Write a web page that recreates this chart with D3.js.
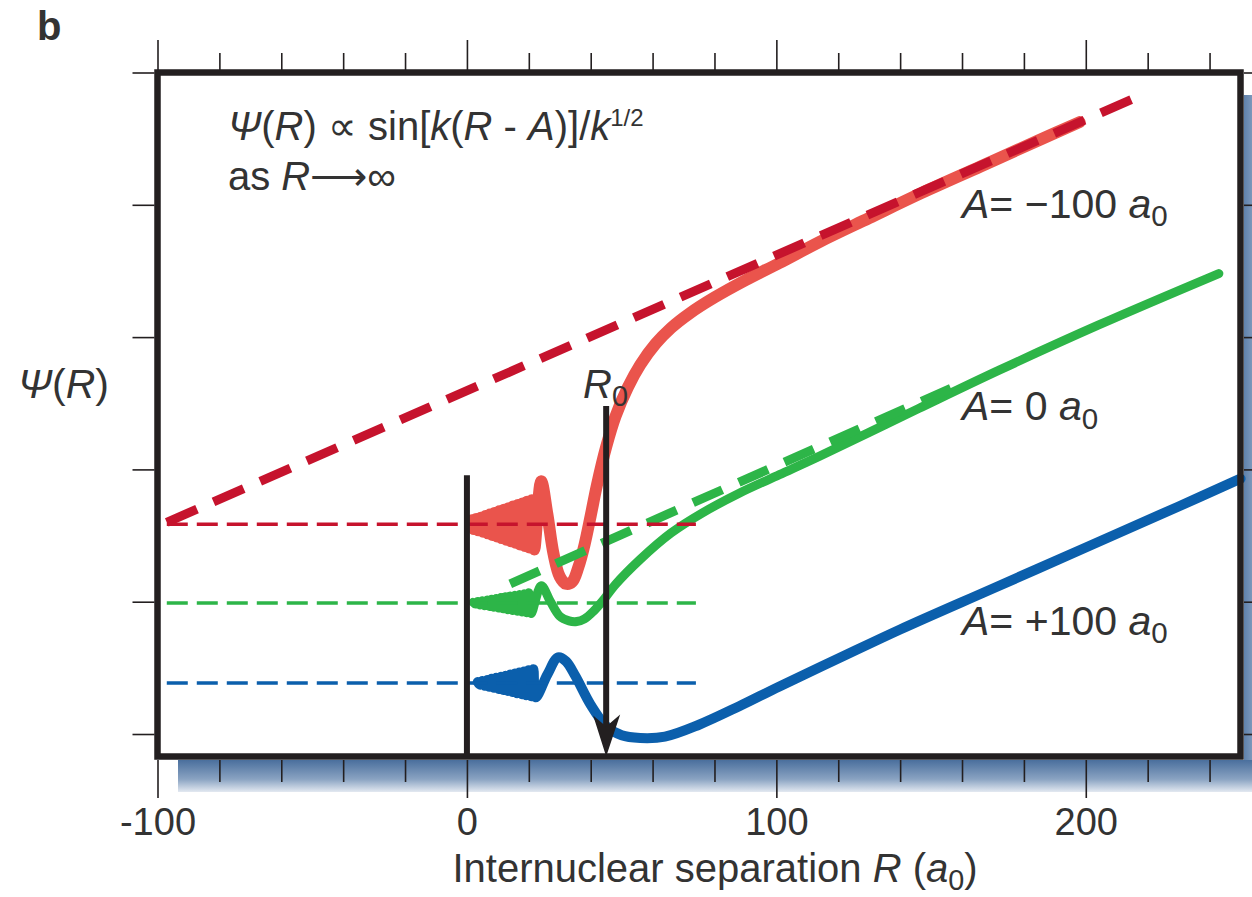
<!DOCTYPE html>
<html>
<head>
<meta charset="utf-8">
<script src="https://cdn.jsdelivr.net/npm/d3@7"></script>
<style>
body{margin:0;background:#fff;}
text{font-family:"Liberation Sans",Arial,sans-serif;fill:#333;}
</style>
</head>
<body>
<svg id="chart" width="1252" height="897"></svg>
<script>
// values: R in a0, psi in arbitrary units (one unit per y tick)
const xMajor = [-100, 0, 100, 200];
const xMinor = [-80, -60, -40, -20, 20, 40, 60, 80, 120, 140, 160, 180, 220, 240];
const yTicks = [0, 1, 2, 3, 4, 5];

const baselines = [1.585, 0.99, 0.385];   // red, green, blue zero levels
const baselineSpan = [-97, 74];

const redCurve = [[1.5,1.615],[2.25,1.55],[3,1.625],[3.75,1.54],[4.5,1.635],[5.25,1.529],[6,1.647],[6.75,1.517],
  [7.5,1.659],[8.25,1.505],[9,1.671],[9.75,1.493],[10.5,1.683],[11.25,1.481],[12,1.695],[12.75,1.469],
  [13.5,1.707],[14.25,1.457],[15,1.719],[15.75,1.445],[16.5,1.731],[17.25,1.433],[18,1.743],[18.75,1.421],
  [19.5,1.755],[20.25,1.409],[21,1.767],[21.75,1.395],
  [24,1.91],[26,1.66],[28,1.36],[30,1.19],[32,1.135],[34,1.15],[36,1.26],[38,1.43],[40,1.65],[42,1.88],
  [45,2.17],[48,2.40],[52,2.62],[56,2.79],[61,2.95],[66,3.07],[72,3.18],[80,3.30],[90,3.43],[101,3.56],
  [114,3.72],[130,3.90],[147,4.09],[166,4.29],[185,4.49],[198,4.625]];
const greenCurve = [[2,0.995],[2.75,0.982],[3.5,1.001],[4.25,0.976],[5,1.007],[5.75,0.97],[6.5,1.013],[7.25,0.964],
  [8,1.019],[8.75,0.958],[9.5,1.025],[10.25,0.952],[11,1.031],[11.75,0.946],[12.5,1.037],[13.25,0.94],
  [14,1.043],[14.75,0.934],[15.5,1.049],[16.25,0.928],[17,1.055],[17.75,0.922],[18.5,1.061],[19.25,0.916],
  [20,1.067],[20.75,0.91],
  [24,1.12],[27,1.0],[30,0.89],[33,0.855],[35.5,0.85],[38,0.87],[41,0.93],[44,1.01],[48,1.13],[56,1.32],
  [66,1.52],[76,1.67],[88,1.82],[101,1.96],[114,2.10],[130,2.28],[146,2.46],[172,2.75],[204,3.09],[243,3.48]];
const blueCurve = [[3.5,0.393],[4.25,0.373],[5,0.401],[5.75,0.365],[6.5,0.409],[7.25,0.357],[8,0.417],[8.75,0.349],
  [9.5,0.425],[10.25,0.341],[11,0.433],[11.75,0.333],[12.5,0.441],[13.25,0.325],[14,0.449],[14.75,0.317],
  [15.5,0.457],[16.25,0.309],[17,0.465],[17.75,0.301],[18.5,0.473],[19.25,0.293],[20,0.481],[20.75,0.285],
  [21.5,0.489],[22.25,0.277],
  [26,0.45],[29.5,0.58],[32,0.55],[35,0.44],[40,0.22],[45,0.06],[50,-0.01],[56,-0.03],[64,-0.02],[75,0.07],
  [88,0.21],[101,0.36],[120,0.57],[140,0.79],[170,1.10],[200,1.41],[230,1.72],[250,1.93]];

// asymptotes sin[k(R-A)] ~ (R-A)
const redAsym = [[-97,1.60],[219,4.84]];
const greenAsym = [[14,1.135],[160,2.65]];

const r0 = 45;
const zeroLineTop = 1.955;
const r0LineTop = 2.48;

const aLabels = ["= \u2212100 ", "= 0 ", "= +100 "];
const aLabelLevels = [3.9, 2.37, 0.75];

const svg = d3.select("#chart");

const x = d3.scaleLinear().domain([-100, 250]).range([157.5, 1240.5]);
const y = d3.scaleLinear().domain([-0.17, 5]).range([756.5, 72.5]);

// shadow
const defs = svg.append("defs");
const gb = defs.append("linearGradient").attr("id","shadeB").attr("x1",0).attr("y1",0).attr("x2",0).attr("y2",1);
gb.append("stop").attr("offset",0).attr("stop-color","#4a6f9d");
gb.append("stop").attr("offset",0.6).attr("stop-color","#8aa3c2");
gb.append("stop").attr("offset",1).attr("stop-color","#e3e9f1");
const gr = defs.append("linearGradient").attr("id","shadeR").attr("x1",0).attr("y1",0).attr("x2",1).attr("y2",0);
gr.append("stop").attr("offset",0).attr("stop-color","#5f81ab");
gr.append("stop").attr("offset",1).attr("stop-color","#a7bad3");

svg.append("rect").attr("x",1244).attr("y",95).attr("width",20).attr("height",697).attr("fill","url(#shadeR)");
svg.append("rect").attr("x",178).attr("y",760).attr("width",1086).attr("height",32).attr("fill","url(#shadeB)");

svg.append("rect")
    .attr("x", x(-100)).attr("y", y(5))
    .attr("width", x(250) - x(-100)).attr("height", y(-0.17) - y(5))
    .attr("fill", "#fff");

const line = d3.line()
    .x(d => x(d[0]))
    .y(d => y(d[1]))
    .curve(d3.curveCatmullRom.alpha(0.5));

const drawCurve = (data, color, width, dash) => {
  svg.append("path")
      .datum(data)
      .attr("fill", "none")
      .attr("stroke", color)
      .attr("stroke-width", width)
      .attr("stroke-linejoin", "round")
      .attr("stroke-linecap", dash ? "butt" : "round")
      .attr("stroke-dasharray", dash || null)
      .attr("d", line);
};

drawCurve(blueCurve, "#0b5fac", 10);
drawCurve(greenCurve, "#2db548", 9);
drawCurve(redCurve, "#ea544c", 12);
drawCurve(greenAsym, "#2db548", 9, "32,18");
drawCurve(redAsym, "#c6132d", 9, "33,18");

const baseColors = ["#c6132d", "#2db548", "#0b5fac"];
baselines.forEach((b, i) => {
  drawCurve(baselineSpan.map(r => [r, b]), baseColors[i], 3.5, "21,9");
});

// box
svg.append("rect")
    .attr("x", x(-100)).attr("y", y(5))
    .attr("width", x(250) - x(-100)).attr("height", y(-0.17) - y(5))
    .attr("fill", "none")
    .attr("stroke", "#231f20")
    .attr("stroke-width", 6.5);

// R = 0 wall and R0 arrow
svg.append("line")
    .attr("x1", x(0)).attr("x2", x(0))
    .attr("y1", y(zeroLineTop)).attr("y2", y(-0.17))
    .attr("stroke", "#231f20").attr("stroke-width", 6);

const tipX = x(r0), tipY = y(-0.17);
svg.append("line")
    .attr("x1", tipX).attr("x2", tipX)
    .attr("y1", y(r0LineTop)).attr("y2", tipY - 28)
    .attr("stroke", "#231f20").attr("stroke-width", 6);
svg.append("path")
    .attr("d", `M${tipX},${tipY} L${tipX-13},${tipY-41} L${tipX},${tipY-30} L${tipX+14},${tipY-42} Z`)
    .attr("fill", "#231f20");

// axes
const styleAxis = g => {
  g.select(".domain").remove();
  g.selectAll(".tick line").attr("stroke", "#231f20").attr("stroke-width", 1.6);
  g.selectAll("text").style("font-size", "38px").attr("fill", "#333");
};

svg.append("g").attr("transform", "translate(0,760)")
    .call(d3.axisBottom(x).tickValues(xMinor).tickSize(22).tickFormat(""))
    .call(styleAxis);
svg.append("g").attr("transform", "translate(0,760)")
    .call(d3.axisBottom(x).tickValues(xMajor).tickSize(38).tickPadding(10)
      .tickFormat(d => d < 0 ? "-" + Math.abs(d) : d))
    .call(styleAxis);
svg.append("g").attr("transform", "translate(0,70)")
    .call(d3.axisTop(x).tickValues(xMinor).tickSize(17).tickFormat(""))
    .call(styleAxis);
svg.append("g").attr("transform", "translate(0,70)")
    .call(d3.axisTop(x).tickValues(xMajor).tickSize(30).tickFormat(""))
    .call(styleAxis);
svg.append("g").attr("transform", "translate(154.5,0)")
    .call(d3.axisLeft(y).tickValues(yTicks).tickSize(22).tickFormat(""))
    .call(styleAxis);
svg.append("g").attr("transform", "translate(1244,0)")
    .call(d3.axisRight(y).tickValues(yTicks).tickSize(20).tickFormat(""))
    .call(styleAxis);

// text with italics and sub/superscripts
const rich = (x0, y0, parts, size, anchor) => {
  const t = svg.append("text")
      .attr("x", x0).attr("y", y0)
      .attr("text-anchor", anchor || "start")
      .style("font-size", size + "px");
  let shift = 0;
  parts.forEach(([s, kind]) => {
    const ts = t.append("tspan").text(s);
    let target = 0;
    if (kind === "i") ts.style("font-style", "italic");
    if (kind === "sub") { target = size * 0.2; ts.style("font-size", (size * 0.72) + "px"); }
    if (kind === "sup") { target = -size * 0.36; ts.style("font-size", (size * 0.6) + "px"); }
    if (target !== shift) { ts.attr("dy", target - shift); shift = target; }
  });
  return t;
};

svg.append("text").attr("x", 37).attr("y", 40)
    .style("font-size", "40px").style("font-weight", "bold").attr("fill", "#231f20").text("b");

rich(228, 140, [["\u03A8","i"],["("],["R","i"],[") \u221D sin["],["k","i"],["("],["R","i"],[" - "],["A","i"],[")]/"],["k","i"],["1/2","sup"]], 40);
rich(228, 190, [["as "],["R","i"],["\u27F6\u221E"]], 40);

rich(18, 398, [["\u03A8","i"],["("],["R","i"],[")"]], 41);
rich(583, 398, [["R","i"],["0","sub"]], 40);

aLabels.forEach((s, i) => {
  rich(962, y(aLabelLevels[i]), [["A","i"],[s],["a","i"],["0","sub"]], 41);
});

rich(715, 882, [["Internuclear separation "],["R","i"],[" ("],["a","i"],["0","sub"],[")"]], 40, "middle");
</script>
</body>
</html>
